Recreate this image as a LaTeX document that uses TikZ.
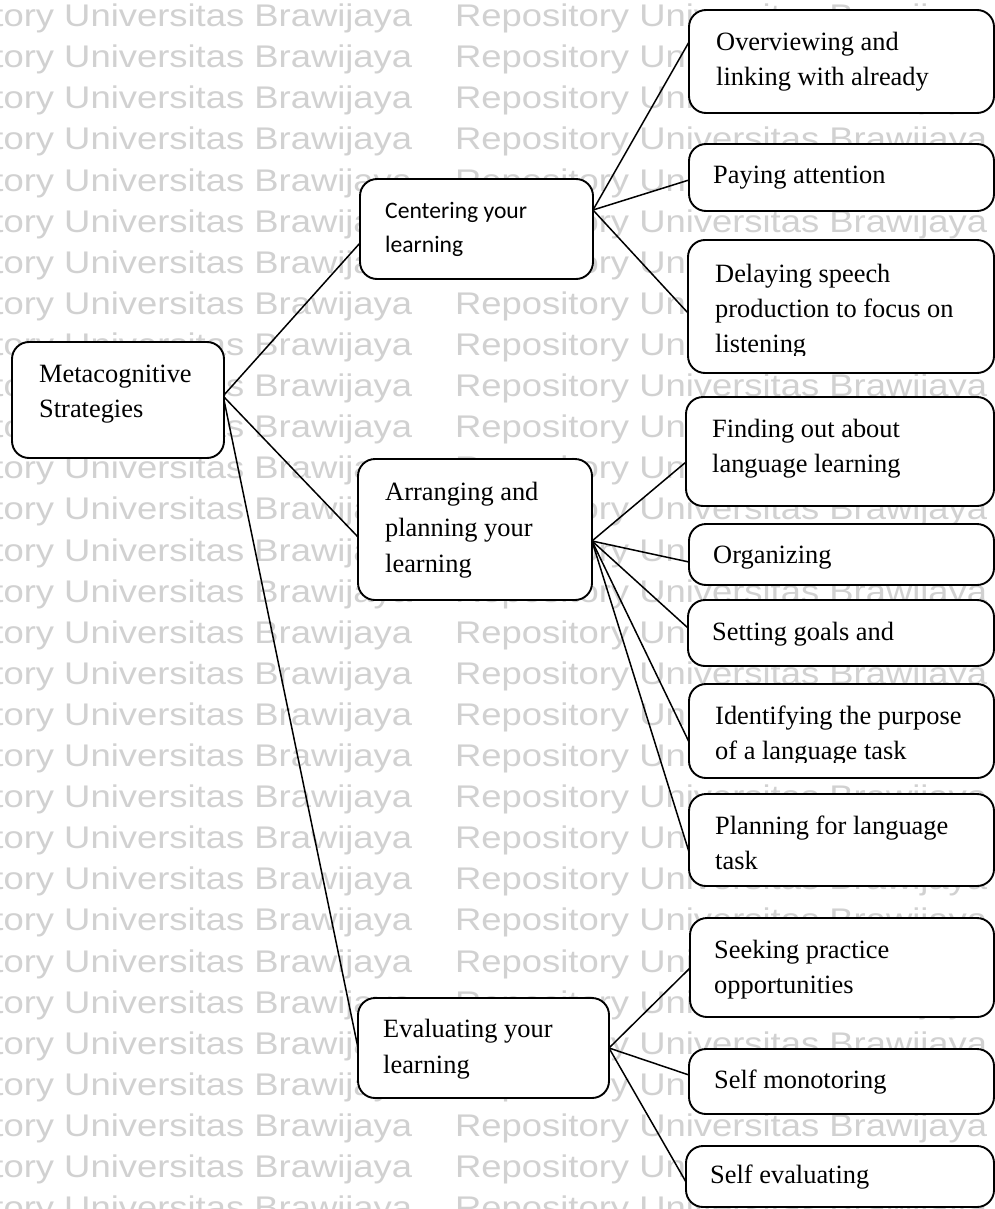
\documentclass[tikz,border=0pt]{standalone}
\usepackage{fontspec}
\setmainfont{Liberation Serif}
\newfontfamily\wmfont[FakeStretch=1.163]{Liberation Sans}
\newfontfamily\calfont{Carlito}
\definecolor{wmgray}{gray}{0.82}

\begin{document}
\begin{tikzpicture}[x=1pt, y=-1pt,
  box/.style={draw=black, line width=1.9pt, fill=white, rounded corners=17pt,
              inner sep=0pt, outer sep=0pt},
  bx/.style 2 args={minimum width=#1pt, minimum height=#2pt},
  lbl/.style={anchor=base west, inner sep=0pt, align=left,
              font=\fontsize{26.4}{35}\selectfont},
  lblwide/.style={lbl, font=\fontsize{26.4}{36}\selectfont},
  clbl/.style={anchor=base west, inner sep=0pt, align=left,
               font=\calfont\fontsize{23.6}{34}\selectfont},
  wire/.style={line width=1.5pt, line cap=round},
  wm/.style={anchor=base west, inner sep=0pt, text=wmgray,
             font=\wmfont\fontsize{31.3}{36}\selectfont}]

% page and background
\useasboundingbox (0,0) rectangle (995,1209);
\clip (0,0) rectangle (995,1209);
\fill[white] (0,0) rectangle (995,1209);

% repository watermark rows
\foreach \k in {0,...,29} {
  \foreach \c/\xx in {a/-120, b/455} {
    \node[wm] (wm-\c-\k) at (\xx, {26.7+41.1*\k}) {Repository Universitas Brawijaya};
  }
}

% boxes
\node[box, bx={212}{116}] (root) at (118,400) {};
\node[box, bx={233}{100}] (cent) at (476.5,229) {};
\node[box, bx={234}{141}] (arr)  at (475,529.5) {};
\node[box, bx={251}{100}] (eval) at (483.5,1048) {};

\node[box, bx={305}{103}] (c1) at (841.5,61.5) {};
\node[box, bx={305}{67}]  (c2) at (841.5,177.5) {};
\node[box, bx={306}{133}] (c3) at (841,306.5) {};

\node[box, bx={308}{109}] (a1) at (840,451.5) {};
\node[box, bx={305}{61}]  (a2) at (841.5,554.5) {};
\node[box, bx={306}{66}]  (a3) at (841,633) {};
\node[box, bx={305}{94}]  (a4) at (841.5,731) {};
\node[box, bx={305}{92}]  (a5) at (841.5,840) {};

\node[box, bx={304}{99}]  (e1) at (842,967.5) {};
\node[box, bx={305}{65}]  (e2) at (841.5,1081.5) {};
\node[box, bx={308}{61}]  (e3) at (840,1176.5) {};

% connectors
\draw[wire] ([yshift=5pt]root.east) -- ([yshift=-14pt]cent.west);
\draw[wire] ([yshift=3pt]root.east) -- ([yshift=-7.5pt]arr.west);
\draw[wire] (root.east) -- (eval.west);

\draw[wire] ([yshift=19pt]cent.east) -- ([yshift=19.5pt]c1.west);
\draw[wire] ([yshift=19pt]cent.east) -- ([yshift=-2.5pt]c2.west);
\draw[wire] ([yshift=19pt]cent.east) -- ([yshift=-6.5pt]c3.west);

\draw[wire] ([yshift=-11.5pt]arr.east) -- ([yshift=-10.5pt]a1.west);
\draw[wire] ([yshift=-11.5pt]arr.east) -- ([yshift=-7.5pt]a2.west);
\draw[wire] ([yshift=-11.5pt]arr.east) -- ([yshift=5pt]a3.west);
\draw[wire] ([yshift=-11.5pt]arr.east) -- ([yshift=-11pt]a4.west);
\draw[wire] ([yshift=-11.5pt]arr.east) -- ([yshift=-12pt]a5.west);

\draw[wire] (eval.east) -- ([yshift=-0.5pt]e1.west);
\draw[wire] (eval.east) -- ([yshift=6.5pt]e2.west);
\draw[wire] (eval.east) -- ([yshift=-5.5pt]e3.west);

% labels (anchored at the baseline of their last line)
\node[lbl] (t-root) at (39,417) {Metacognitive\\Strategies};
\node[clbl] (t-cent) at (385,252) {Centering your\\learning};
\node[lblwide] (t-arr) at (385,572) {Arranging and\\planning your\\learning};
\node[lblwide] (t-eval) at (383,1073) {Evaluating your\\learning};

\node[lbl] (t-c1) at (716,86) {Overviewing and\\linking with already};
\node[lbl] (t-c2) at (713,183) {Paying attention};
\begin{scope}
  \clip (c3.north west) rectangle ([yshift=17.5pt]c3.south east);
  \node[lbl] (t-c3) at (715,352) {Delaying speech\\production to focus on\\listening};
\end{scope}

\node[lbl] (t-a1) at (712,472) {Finding out about\\language learning};
\node[lbl] (t-a2) at (713,563) {Organizing};
\node[lbl] (t-a3) at (712,640) {Setting goals and};
\begin{scope}
  \clip (a4.north west) rectangle ([yshift=15.5pt]a4.south east);
  \node[lbl] (t-a4) at (715,759) {Identifying the purpose\\of a language task};
\end{scope}
\node[lbl] (t-a5) at (715,869) {Planning for language\\task};

\node[lbl] (t-e1) at (714,993) {Seeking practice\\opportunities};
\node[lbl] (t-e2) at (714,1088) {Self monotoring};
\node[lbl] (t-e3) at (710,1183) {Self evaluating};
\end{tikzpicture}
\end{document}
